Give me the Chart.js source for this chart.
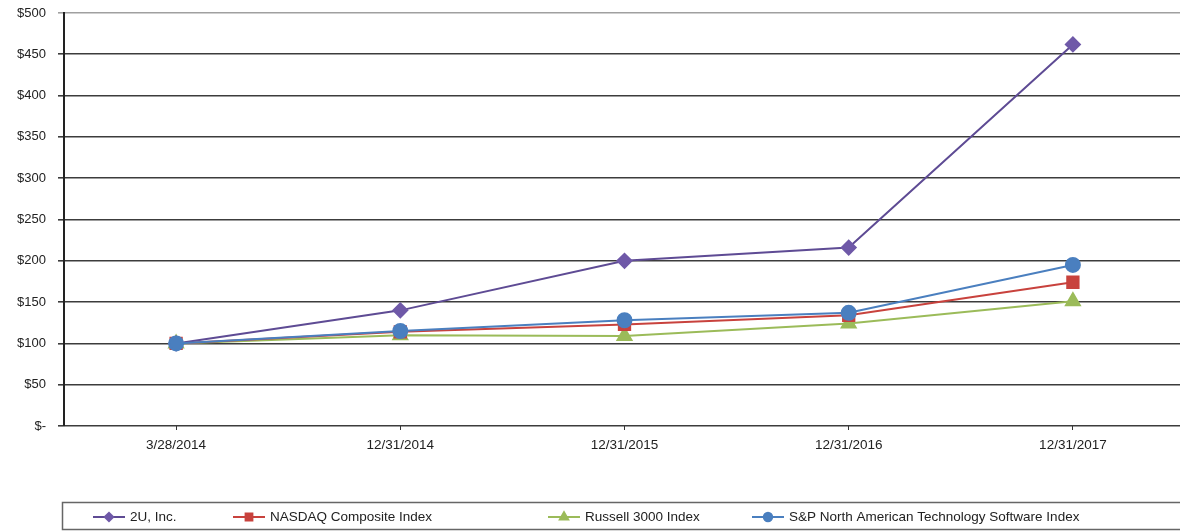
<!DOCTYPE html>
<html>
<head>
<meta charset="utf-8">
<script src="https://cdn.jsdelivr.net/npm/chart.js@4"></script>
<style>
    html, body { margin: 0; padding: 0; background: #fff; overflow: hidden; }
    #wrap { width: 1180px; height: 531px; overflow: hidden; }
    #wrap canvas { display: block; }
</style>
</head>
<body>
<div id="wrap">
    <canvas id="perf-chart" width="1195" height="531"></canvas>
</div>
<script>
// categories
const dates = ['3/28/2014', '12/31/2014', '12/31/2015', '12/31/2016', '12/31/2017'];

// series values
const twoU = [100, 140, 200, 216, 462];
const nasdaq = [100, 114, 123, 134, 174];
const russell = [100, 110, 109, 124, 151];
const spSoftware = [100, 115, 128, 137, 195];

// y ticks
const yTicks = [0, 50, 100, 150, 200, 250, 300, 350, 400, 450, 500];

const FONT = 'Liberation Sans, Arial, sans-serif';

// legend drawn as a boxed row below the plot
const boxLegend = {
    id: 'boxLegend',
    afterDraw(chart, args, opts) {
        const ctx = chart.ctx;
        ctx.save();
        ctx.strokeStyle = '#666';
        ctx.lineWidth = 1.5;
        ctx.strokeRect(62.5, 502.5, 1140, 27);
        ctx.font = '13.5px ' + FONT;
        ctx.textBaseline = 'middle';
        const y = 517;
        chart.data.datasets.forEach((ds, i) => {
            const x0 = opts.starts[i];
            ctx.strokeStyle = ds.borderColor;
            ctx.lineWidth = 2;
            ctx.beginPath();
            ctx.moveTo(x0, y);
            ctx.lineTo(x0 + 32, y);
            ctx.stroke();
            ctx.fillStyle = ds.pointBackgroundColor;
            ctx.strokeStyle = ds.pointBackgroundColor;
            Chart.helpers.drawPoint(ctx, {
                pointStyle: ds.pointStyle,
                radius: ds.pointRadius * 0.6,
                borderWidth: 1
            }, x0 + 16, y);
            ctx.fillStyle = '#222';
            ctx.fillText(ds.label, x0 + 37, y);
        });
        ctx.restore();
    }
};

const ctx = document.getElementById('perf-chart').getContext('2d');
new Chart(ctx, {
    type: 'line',
    data: {
        labels: dates,
        datasets: [
            {
                label: '2U, Inc.',
                data: twoU,
                borderColor: '#5e4b94',
                pointBackgroundColor: '#6f59a8',
                pointBorderColor: '#6f59a8',
                pointStyle: 'rectRot',
                pointRadius: 7,
                borderWidth: 2,
                order: 1
            },
            {
                label: 'NASDAQ Composite Index',
                data: nasdaq,
                borderColor: '#c8423d',
                pointBackgroundColor: '#c8423d',
                pointBorderColor: '#c8423d',
                pointStyle: 'rect',
                pointRadius: 8,
                borderWidth: 2,
                order: 2
            },
            {
                label: 'Russell 3000 Index',
                data: russell,
                borderColor: '#9bbb59',
                pointBackgroundColor: '#9bbb59',
                pointBorderColor: '#9bbb59',
                pointStyle: 'triangle',
                pointRadius: 8,
                borderWidth: 2,
                order: 3
            },
            {
                label: 'S&P North American Technology Software Index',
                data: spSoftware,
                borderColor: '#4a7fbf',
                pointBackgroundColor: '#4a7fbf',
                pointBorderColor: '#4a7fbf',
                pointStyle: 'circle',
                pointRadius: 7,
                borderWidth: 2,
                order: 0
            }
        ]
    },
    options: {
        responsive: false,
        animation: false,
        layout: { padding: { top: 13, bottom: 75, left: 0, right: 0 } },
        plugins: {
            legend: { display: false },
            tooltip: { enabled: false },
            boxLegend: { starts: [93, 233, 548, 752] }
        },
        scales: {
            x: {
                offset: true,
                grid: {
                    drawOnChartArea: false,
                    tickLength: 4,
                    color: '#333'
                },
                border: { display: false },
                ticks: {
                    color: '#222',
                    font: { family: FONT, size: 13.5 },
                    padding: 7,
                    maxRotation: 0,
                    autoSkip: false
                },
                afterFit: (scale) => { scale.height = 30; }
            },
            y: {
                min: 0,
                max: 500,
                afterBuildTicks: (scale) => { scale.ticks = yTicks.map(v => ({ value: v })); },
                grid: {
                    color: (c) => c.tick && c.tick.value === 500 ? '#a0a0a0' : '#3c3c3c',
                    lineWidth: 1.6,
                    tickLength: 6
                },
                border: { display: true, color: '#222', width: 2 },
                ticks: {
                    color: '#222',
                    font: { family: FONT, size: 13 },
                    padding: 12,
                    callback: (v) => v === 0 ? '$-' : '$' + v
                },
                afterFit: (scale) => {
                    scale.width = 64;
                    scale.paddingTop = 0;
                    scale.paddingBottom = 0;
                }
            }
        }
    },
    plugins: [boxLegend]
});
</script>
</body>
</html>
